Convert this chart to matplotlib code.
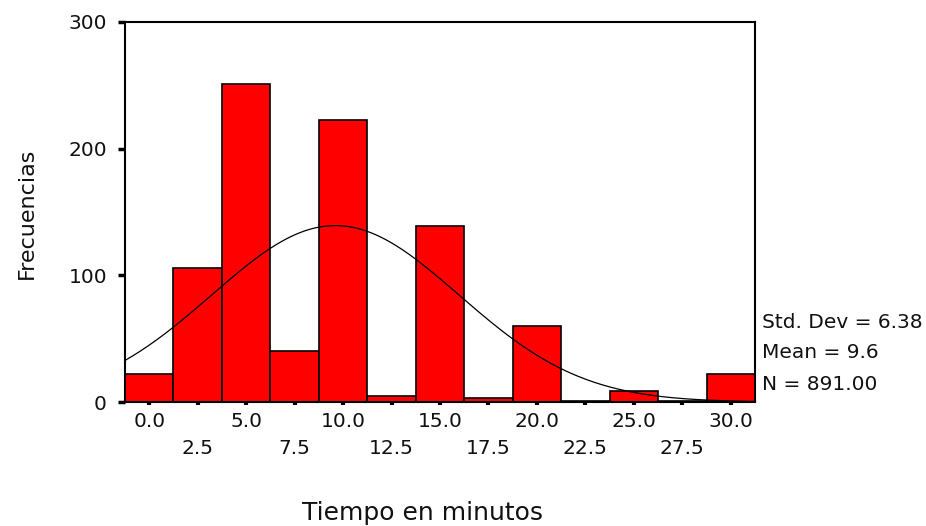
import numpy as np
import matplotlib.pyplot as plt

# histogram counts per 2.5 minute bin
bin_centers = [0.0, 2.5, 5.0, 7.5, 10.0, 12.5, 15.0, 17.5, 20.0, 22.5, 25.0, 27.5, 30.0]
counts = [22, 106, 251, 40, 223, 5, 139, 3, 60, 1, 9, 1, 22]
bin_width = 2.5

# summary stats printed on the chart
std_dev = 6.38
mean = 9.6
n_total = 891.00

major_labels = ['0.0', '5.0', '10.0', '15.0', '20.0', '25.0', '30.0']
minor_labels = ['2.5', '7.5', '12.5', '17.5', '22.5', '27.5']

plt.rcParams['font.family'] = 'DejaVu Sans'

fig = plt.figure(figsize=(9.26, 5.26), dpi=100)
ax = fig.add_axes([125/926, 1-402/526, 630/926, 380/526])

ax.bar(bin_centers, counts, width=bin_width, color='#ff0000',
       edgecolor='black', linewidth=1.2, zorder=2)

# normal curve scaled to the histogram
xs = np.linspace(-1.25, 31.25, 400)
ys = n_total*bin_width/(std_dev*np.sqrt(2*np.pi))*np.exp(-0.5*((xs-mean)/std_dev)**2)
ax.plot(xs, ys, color='black', linewidth=0.9, zorder=3)

ax.set_xlim(-1.25, 31.25)
ax.set_ylim(0, 300)
ax.set_yticks([0, 100, 200, 300])
ax.set_yticklabels(['0', '100', '200', '300'], fontsize=14.5, color='#111111')

ax.set_xticks(bin_centers[0::2])
ax.set_xticklabels(major_labels, fontsize=14.5, color='#111111')
ax.set_xticks(bin_centers[1::2], minor=True)
ax.set_xticklabels(minor_labels, minor=True, fontsize=14.5, color='#111111')

ax.tick_params(axis='y', direction='out', length=5, width=2.5, pad=8)
ax.tick_params(axis='x', which='both', direction='out', length=2.5, width=3)
ax.tick_params(axis='x', which='major', pad=5)
ax.tick_params(axis='x', which='minor', pad=24.5)

for s in ax.spines.values():
    s.set_linewidth(1.5)

fig.text(27/926, 1-213/526, 'Frecuencias', rotation=90, fontsize=16,
         ha='center', va='center', color='#111111')
fig.text(422/926, 1-513/526, 'Tiempo en minutos', fontsize=18,
         ha='center', va='center', color='#111111')

fig.text(762/926, 1-322/526, 'Std. Dev = %.2f' % std_dev, fontsize=14.5, va='center', color='#111111')
fig.text(762/926, 1-353/526, 'Mean = %.1f' % mean, fontsize=14.5, va='center', color='#111111')
fig.text(762/926, 1-384/526, 'N = %.2f' % n_total, fontsize=14.5, va='center', color='#111111')

fig.savefig('out.png', dpi=100)
